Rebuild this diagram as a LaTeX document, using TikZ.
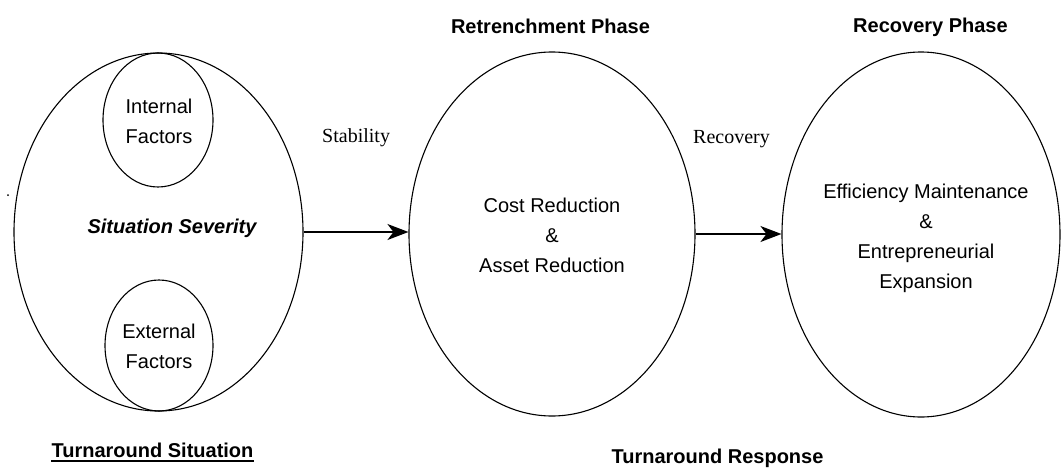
\documentclass[tikz,border=0pt]{standalone}
\usepackage{fontspec}
\usetikzlibrary{shapes.geometric,arrows.meta}
\newfontfamily\labelsans{Liberation Sans}
\newfontfamily\labelserif{Liberation Serif}
\begin{document}
\begin{tikzpicture}[x=1pt,y=-1pt,
  oval/.style={draw,ellipse,line width=1.1pt,inner sep=0pt},
  txt/.style={inner sep=0pt,font=\labelsans\fontsize{20}{30}\selectfont,align=center},
  head/.style={txt,font=\labelsans\bfseries\fontsize{20}{30}\selectfont},
  flowlabel/.style={inner sep=0pt,anchor=base west,font=\labelserif\fontsize{20}{24}\selectfont},
  flow/.style={line width=1.4pt,-{Stealth[length=21pt,width=16pt,inset=6pt]}}]
\useasboundingbox (0,0) rectangle (1061,474);

% the three stages
\node[oval,minimum width=289pt,minimum height=358pt] (sit) at (158.5,232) {};
\node[oval,minimum width=286pt,minimum height=364pt] (ret) at (552,234) {};
\node[oval,minimum width=278pt,minimum height=365pt] (rec) at (921,234.5) {};

% factors inside the turnaround situation
\node[oval,minimum width=110pt,minimum height=134pt] (int) at (158,120) {};
\node[oval,minimum width=108pt,minimum height=131pt] (ext) at (159,345.5) {};

% multi-line labels: base anchor sits on the last line
\node[txt,anchor=base] (intl) at (159,143) {Internal\\Factors};
\node[txt,anchor=base] (extl) at (159,368) {External\\Factors};
\node[txt,anchor=base,font=\labelsans\bfseries\itshape\fontsize{20}{30}\selectfont] (sev) at (172,233) {Situation Severity};

\node[txt,anchor=base] (retl) at (552,272) {Cost Reduction\\\&\\Asset Reduction};
\node[txt,anchor=base] (recl) at (926,288) {Efficiency Maintenance\\\&\\Entrepreneurial\\Expansion};

% phase headings
\node[head,anchor=base] (rph) at (550.5,33) {Retrenchment Phase};
\node[head,anchor=base] (cph) at (930.5,32) {Recovery Phase};
\node[head,anchor=base] (ts) at (152.5,457) {Turnaround Situation};
\draw[line width=1.6pt] ([yshift=-4pt]ts.base west) -- ([yshift=-4pt]ts.base east);
\node[head,anchor=base] (tr) at (717.5,463) {Turnaround Response};

% transitions
\draw[flow] (sit.east) -- (sit.east -| ret.west);
\draw[flow] (ret.east) -- (ret.east -| rec.west);
\node[flowlabel] (stab) at (322,142) {Stability};
\node[flowlabel] (recv) at (693,143) {Recovery};

% stray mark at the left margin
\fill (8,195) circle (1pt);
\end{tikzpicture}
\end{document}
